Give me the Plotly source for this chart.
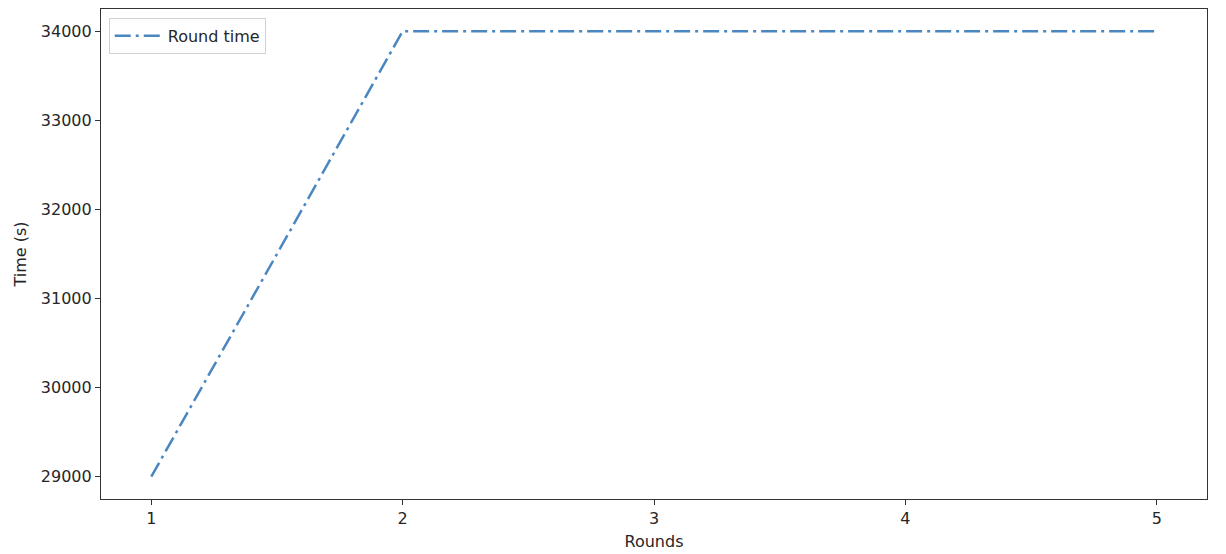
import plotly.graph_objects as go

rounds = [1, 2, 3, 4, 5]
round_time = [29000, 34000, 34000, 34000, 34000]
x_ticks = [1, 2, 3, 4, 5]
y_ticks = [29000, 30000, 31000, 32000, 33000, 34000]

FONT = 'DejaVu Sans, sans-serif'
TXT = '#262626'

fig = go.Figure()
fig.add_trace(go.Scatter(
    x=rounds, y=round_time, mode='lines', name='Round time',
    line=dict(color='#4a86c0', width=2.5, dash='16px,5px,3px,5px')
))

axis_style = dict(
    showgrid=False, zeroline=False, showline=True, mirror=True,
    linecolor='#333', linewidth=1.2, ticks='outside', ticklen=5,
    tickcolor='#333', tickfont=dict(size=16, color=TXT, family=FONT),
)
fig.update_xaxes(range=[0.8, 5.2], tickvals=x_ticks,
                 title=dict(text='Rounds', font=dict(size=16, color=TXT), standoff=8),
                 **axis_style)
fig.update_yaxes(range=[28750, 34250], tickvals=y_ticks, tickformat='d',
                 title=dict(text='Time (s)', font=dict(size=16, color=TXT), standoff=10),
                 **axis_style)

# page body has an 8px margin, so the figure is sized to fit the window
fig.update_layout(
    width=1218, height=546,
    margin=dict(l=93, r=19, t=1, b=55),
    plot_bgcolor='white', paper_bgcolor='white',
    font=dict(family=FONT, size=16, color=TXT),
    legend=dict(x=0.007, y=0.982, xanchor='left', yanchor='top',
                bgcolor='rgba(255,255,255,0.8)', bordercolor='#d0d0d0', borderwidth=1,
                font=dict(size=16), itemwidth=48),
    showlegend=True,
)

fig.write_html("out.html")
